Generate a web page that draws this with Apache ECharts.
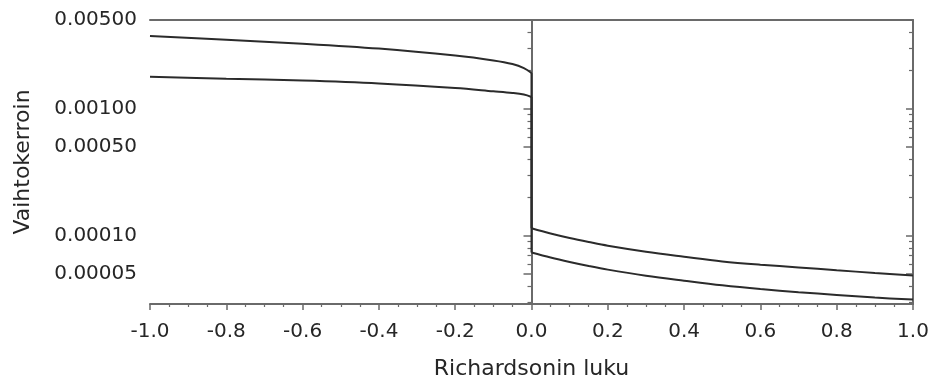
<!DOCTYPE html>
<html>
<head>
<meta charset="utf-8">
<script src="https://cdn.jsdelivr.net/npm/echarts@6/dist/echarts.min.js"></script>
<style>
  html, body { margin: 0; padding: 0; background: #ffffff; }
  #chart { width: 932px; height: 381px; }
</style>
</head>
<body>
<div id="chart"></div>
<script>
// Richardson number, unstable side (Ri <= 0) and stable side (Ri >= 0)
const riLeft  = [-1.0, -0.8, -0.6, -0.4, -0.2, -0.1, -0.05, -0.02, 0.0];
const riRight = [0.0, 0.05, 0.1, 0.15, 0.2, 0.3, 0.4, 0.5, 0.6, 0.7, 0.8, 0.9, 1.0];
// Exchange coefficient, upper curve
const upperLeft  = [0.00374, 0.003491, 0.003254, 0.002977, 0.002622, 0.00240, 0.00225, 0.00209, 0.00191];
const upperRight = [0.0001145, 0.0001042, 0.0000960, 0.0000893, 0.0000835, 0.0000749, 0.0000684,
                    0.0000628, 0.0000591, 0.0000563, 0.0000535, 0.0000509, 0.0000487];
// Exchange coefficient, lower curve
const lowerLeft  = [0.001789, 0.001725, 0.001666, 0.001581, 0.001457, 0.001373, 0.001331, 0.001293, 0.001238];
const lowerRight = [0.0000738, 0.0000674, 0.0000622, 0.0000578, 0.0000541, 0.0000485, 0.0000443,
                    0.0000407, 0.0000380, 0.0000359, 0.0000342, 0.0000326, 0.0000314];
// Y tick labels (labelled) and unlabelled minor ticks
const yMajorTicks = [0.00005, 0.0001, 0.0005, 0.001, 0.0049999];
const yMinorTicks = [0.00003, 0.00004, 0.00006, 0.00007, 0.00008, 0.00009,
                     0.0002, 0.0003, 0.0004, 0.0006, 0.0007, 0.0008, 0.0009,
                     0.002, 0.003, 0.004];
const xMin = -1.0, xMax = 1.0, xStep = 0.2;
const yMin = 0.000029, yMax = 0.005;

const FONT = 'DejaVu Sans';
const TXT = '#262626';
const AX = '#6a6a6a';
const LINE = '#2b2b2b';

function pairs(xs, ys) { return xs.map((x, i) => [x, ys[i]]); }
function jump(a, b) { return [[riLeft[riLeft.length - 1], a[a.length - 1]], [riRight[0], b[0]]]; }

const baseY = {
  type: 'log', logBase: 10, min: yMin, max: yMax, gridIndex: 0,
  splitLine: { show: false }, minorTick: { show: false }, minorSplitLine: { show: false }
};

function curve(name, data, smooth) {
  return {
    type: 'line', name: name, xAxisIndex: 0, yAxisIndex: 0,
    data: data, showSymbol: false, smooth: smooth,
    lineStyle: { color: LINE, width: 2 }
  };
}

const chart = echarts.init(document.getElementById('chart'), null, { renderer: 'canvas' });
chart.setOption({
  animation: false,
  backgroundColor: '#ffffff',
  grid: { left: 150, right: 19, top: 20, bottom: 77, containLabel: false, outerBoundsMode: 'none' },
  xAxis: [
    {
      type: 'value', min: xMin, max: xMax, interval: xStep, position: 'bottom',
      name: 'Richardsonin luku', nameLocation: 'middle', nameGap: 54,
      nameTextStyle: { fontFamily: FONT, fontSize: 22, color: TXT },
      axisLine: { show: true, lineStyle: { color: AX, width: 2 } },
      axisTick: { show: true, inside: false, length: 6, lineStyle: { color: AX, width: 1.5 } },
      minorTick: { show: true, splitNumber: 4, length: 3, lineStyle: { color: AX, width: 1.2 } },
      axisLabel: { fontFamily: FONT, fontSize: 20, color: TXT, margin: 18,
                   formatter: v => v.toFixed(1) },
      splitLine: { show: false }
    },
    {
      type: 'value', min: xMin, max: xMax, interval: xStep, position: 'top',
      axisLine: { show: true, lineStyle: { color: AX, width: 2 } },
      axisTick: { show: false }, axisLabel: { show: false }, splitLine: { show: false }
    }
  ],
  yAxis: [
    Object.assign({}, baseY, {
      position: 'left',
      name: 'Vaihtokerroin', nameLocation: 'middle', nameGap: 116,
      nameTextStyle: { fontFamily: FONT, fontSize: 22, color: TXT },
      axisLine: { show: true, lineStyle: { color: AX, width: 2 } },
      axisTick: { show: true, inside: false, length: 8, customValues: yMajorTicks,
                  lineStyle: { color: AX, width: 1.5 } },
      axisLabel: { show: true, customValues: yMajorTicks, fontFamily: FONT, fontSize: 20,
                   color: TXT, margin: 13, formatter: v => Number(v).toFixed(5) }
    }),
    Object.assign({}, baseY, {
      position: 'left',
      axisLine: { show: false },
      axisTick: { show: true, inside: false, length: 4, customValues: yMinorTicks,
                  lineStyle: { color: AX, width: 1.2 } },
      axisLabel: { show: false }
    }),
    Object.assign({}, baseY, {
      position: 'right',
      axisLine: { show: true, lineStyle: { color: AX, width: 2 } },
      axisTick: { show: true, inside: true, length: 7, customValues: yMajorTicks,
                  lineStyle: { color: AX, width: 1.5 } },
      axisLabel: { show: false }
    }),
    Object.assign({}, baseY, {
      position: 'right',
      axisLine: { show: false },
      axisTick: { show: true, inside: true, length: 4, customValues: yMinorTicks,
                  lineStyle: { color: AX, width: 1.2 } },
      axisLabel: { show: false }
    })
  ],
  series: [
    curve('upper-left', pairs(riLeft, upperLeft), 0.35),
    curve('upper-jump', jump(upperLeft, upperRight), false),
    curve('upper-right', pairs(riRight, upperRight), 0.35),
    curve('lower-left', pairs(riLeft, lowerLeft), 0.35),
    curve('lower-jump', jump(lowerLeft, lowerRight), false),
    curve('lower-right', pairs(riRight, lowerRight), 0.35)
  ]
});
</script>
</body>
</html>
